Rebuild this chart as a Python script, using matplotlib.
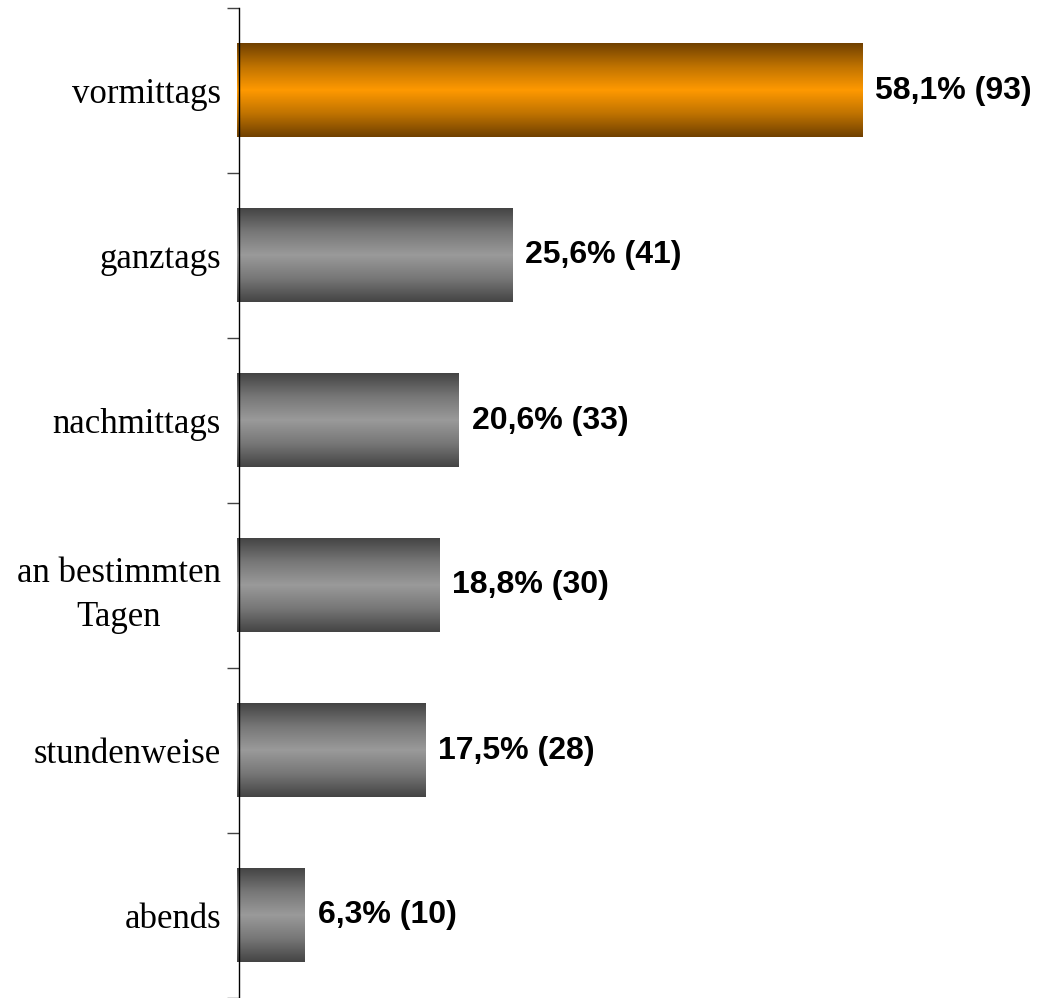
import numpy as np
import matplotlib.pyplot as plt
from matplotlib.colors import LinearSegmentedColormap

# Data
categories = ['vormittags', 'ganztags', 'nachmittags', 'an bestimmten\nTagen', 'stundenweise', 'abends']
percent = [58.1, 25.6, 20.6, 18.8, 17.5, 6.3]
counts = [93, 41, 33, 30, 28, 10]
labels = ['58,1% (93)', '25,6% (41)', '20,6% (33)', '18,8% (30)', '17,5% (28)', '6,3% (10)']

orange_cmap = LinearSegmentedColormap.from_list('og', ['#704000', '#c07300', '#ff9900', '#c07300', '#704000'])
gray_cmap = LinearSegmentedColormap.from_list('gr', ['#444444', '#777777', '#9a9a9a', '#777777', '#444444'])

fig = plt.figure(figsize=(10.45, 9.98), dpi=100)
ax = fig.add_axes([237 / 1045, 0.0, (1045 - 237) / 1045, 990 / 998])

n = len(categories)
xmax = (1045 - 237) / 10.76

bar_h = 0.565
grad = np.linspace(0, 1, 256).reshape(-1, 1)
for i, (val, lab) in enumerate(zip(percent, labels)):
    cmap = orange_cmap if i == 0 else gray_cmap
    y0, y1 = i - bar_h / 2, i + bar_h / 2
    ax.imshow(grad, cmap=cmap, aspect='auto', extent=(0, val, y1, y0), zorder=2)
    ax.text(val + 1.2, i, lab, va='center', ha='left', fontsize=23, fontweight='bold',
            family='Liberation Sans', zorder=3)

ax.set_xlim(0, xmax)
ax.set_ylim(n - 0.5, -0.5)

for s in ['top', 'right', 'bottom']:
    ax.spines[s].set_visible(False)
ax.spines['left'].set_position(('data', 0.18))
ax.spines['left'].set_color('black')
ax.spines['left'].set_linewidth(1.0)
ax.set_xticks([])

ax.set_yticks(np.arange(-0.5, n, 1.0))
ax.set_yticklabels([])
ax.tick_params(axis='y', which='major', direction='out', length=8.5, width=1.0, color='#444444')
ax.set_yticks(np.arange(n), minor=True)
ax.set_yticklabels(categories, minor=True, family='Liberation Serif', fontsize=25,
                   multialignment='center', linespacing=1.45)
ax.tick_params(axis='y', which='minor', length=0, pad=13)

fig.savefig('out.png', dpi=100)
